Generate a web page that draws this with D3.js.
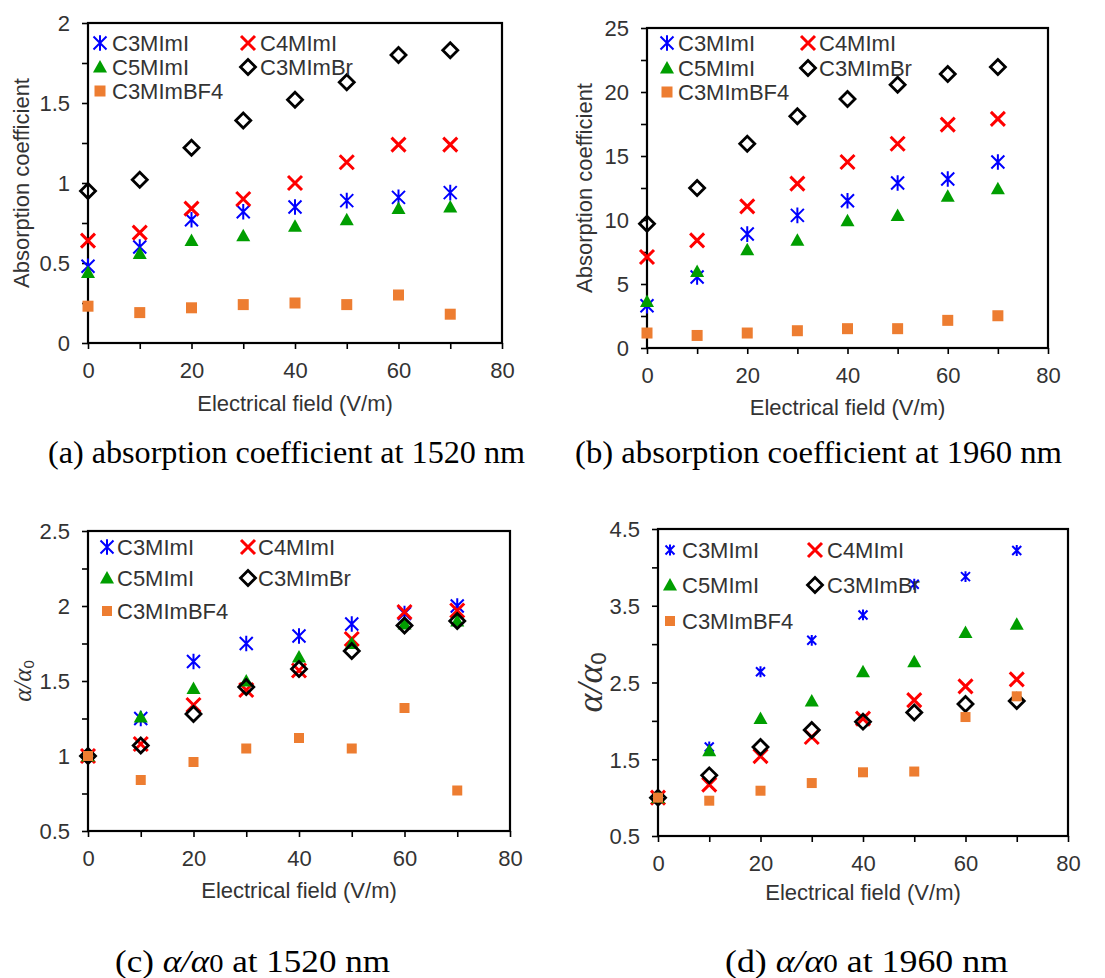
<!DOCTYPE html>
<html>
<head>
<meta charset="utf-8">
<script src="https://cdn.jsdelivr.net/npm/d3@7"></script>
<style>
  body { margin: 0; background: #fff; }
</style>
</head>
<body>
<div id="fig"></div>
<script>
// electrical field (V/m), shared by all four panels
const fields = [0, 10, 20, 30, 40, 50, 60, 70];
const seriesNames = ["C3MImI", "C4MImI", "C5MImI", "C3MImBr", "C3MImBF4"];

// (a) absorption coefficient at 1520 nm
const abs1520_C3MImI   = [0.48, 0.60, 0.77, 0.82, 0.85, 0.89, 0.91, 0.94];
const abs1520_C4MImI   = [0.64, 0.69, 0.84, 0.90, 1.00, 1.13, 1.24, 1.24];
const abs1520_C5MImI   = [0.44, 0.56, 0.64, 0.67, 0.73, 0.77, 0.84, 0.85];
const abs1520_C3MImBr  = [0.95, 1.02, 1.22, 1.39, 1.52, 1.63, 1.80, 1.83];
const abs1520_C3MImBF4 = [0.23, 0.19, 0.22, 0.24, 0.25, 0.24, 0.30, 0.18];

// (b) absorption coefficient at 1960 nm
const abs1960_C3MImI   = [3.3, 5.55, 8.9, 10.36, 11.5, 12.89, 13.2, 14.53];
const abs1960_C4MImI   = [7.11, 8.41, 11.06, 12.84, 14.53, 15.96, 17.45, 17.9];
const abs1960_C5MImI   = [3.64, 5.98, 7.68, 8.41, 9.95, 10.36, 11.85, 12.45];
const abs1960_C3MImBr  = [9.71, 12.5, 15.96, 18.1, 19.45, 20.57, 21.4, 21.95];
const abs1960_C3MImBF4 = [1.17, 0.98, 1.17, 1.35, 1.51, 1.51, 2.16, 2.52];

// (c) alpha/alpha0 at 1520 nm
const ratio1520_C3MImI   = [1.0, 1.25, 1.63, 1.75, 1.80, 1.88, 1.95, 2.00];
const ratio1520_C4MImI   = [1.0, 1.08, 1.34, 1.44, 1.57, 1.78, 1.96, 1.97];
const ratio1520_C5MImI   = [1.0, 1.26, 1.45, 1.50, 1.66, 1.75, 1.88, 1.90];
const ratio1520_C3MImBr  = [1.0, 1.07, 1.28, 1.46, 1.58, 1.70, 1.87, 1.90];
const ratio1520_C3MImBF4 = [1.0, 0.84, 0.96, 1.05, 1.12, 1.05, 1.32, 0.77];

// (d) alpha/alpha0 at 1960 nm
const ratio1960_C3MImI   = [1.0, 1.66, 2.64, 3.05, 3.38, 3.78, 3.88, 4.22];
const ratio1960_C4MImI   = [1.0, 1.17, 1.54, 1.79, 2.03, 2.27, 2.45, 2.54];
const ratio1960_C5MImI   = [1.0, 1.61, 2.03, 2.26, 2.64, 2.77, 3.15, 3.26];
const ratio1960_C3MImBr  = [1.0, 1.29, 1.66, 1.88, 1.99, 2.11, 2.22, 2.26];
const ratio1960_C3MImBF4 = [1.0, 0.96, 1.09, 1.19, 1.33, 1.34, 2.05, 2.32];

const xTicks = [0, 10, 20, 30, 40, 50, 60, 70, 80];

const markerOf = { C3MImI: "star", C4MImI: "cross", C5MImI: "tri", C3MImBr: "diamond", C3MImBF4: "square" };
const colorOf = { C3MImI: "#0000ff", C4MImI: "#ff0000", C5MImI: "#009e00", C3MImBr: "#000000", C3MImBF4: "#ed7d31" };

const SANS = "'Liberation Sans', Arial, Helvetica, sans-serif";
const SERIF = "'Times New Roman', 'Liberation Serif', Times, serif";
const INK = "#333";

const W = 1105, H = 978;
const svg = d3.select("#fig").append("svg").attr("width", W).attr("height", H)
    .style("font-family", SANS);

function drawMarker(g, kind, cx, cy, color, sz) {
    const m = g.append("g").attr("transform", `translate(${cx},${cy})`);
    if (kind === "star") {
        const s = sz.star;
        m.append("path").attr("d", `M${-s},${-s}L${s},${s}M${-s},${s}L${s},${-s}M0,${-s * 1.2}L0,${s * 1.2}`)
            .attr("stroke", color).attr("stroke-width", 2).attr("fill", "none");
    } else if (kind === "cross") {
        m.append("path").attr("d", "M-7,-7L7,7M-7,7L7,-7")
            .attr("stroke", color).attr("stroke-width", 3).attr("fill", "none");
    } else if (kind === "tri") {
        m.append("path").attr("d", "M0,-7L7,5.5L-7,5.5Z").attr("fill", color);
    } else if (kind === "diamond") {
        m.append("path").attr("d", "M0,-7.5L7.5,0L0,7.5L-7.5,0Z")
            .attr("fill", "none").attr("stroke", color).attr("stroke-width", 2.8);
    } else {
        const q = sz.square / 2;
        m.append("rect").attr("x", -q).attr("y", -q).attr("width", 2 * q).attr("height", 2 * q).attr("fill", color);
    }
}

function renderPanel(p) {
    const x = d3.scaleLinear().domain([0, 80]).range([p.left, p.right]);
    const y = d3.scaleLinear().domain(p.yDomain).range([p.bottom, p.top]);
    const g = svg.append("g");

    // ticks via d3 axes
    const xa = g.append("g").attr("transform", `translate(0,${p.bottom})`)
        .call(d3.axisBottom(x).tickValues(xTicks).tickSize(6).tickSizeOuter(0)
            .tickFormat(d => d % 20 === 0 ? d : ""));
    const ya = g.append("g").attr("transform", `translate(${p.left},0)`)
        .call(d3.axisLeft(y).tickValues(p.yTicks).tickSize(6).tickSizeOuter(0)
            .tickFormat(d => p.yLabels.includes(d) ? d3.format("~g")(d) : ""));
    [xa, ya].forEach(a => {
        a.attr("font-family", SANS);
        a.select(".domain").remove();
        a.selectAll(".tick line").attr("stroke", "#000").attr("stroke-width", 1.6);
        a.selectAll("text").attr("fill", INK).style("font-size", "22px");
    });
    xa.selectAll("text").attr("dy", null).attr("y", 35);
    ya.selectAll("text").attr("x", -18).attr("dy", "0.36em");

    // frame
    g.append("rect").attr("x", p.left).attr("y", p.top)
        .attr("width", p.right - p.left).attr("height", p.bottom - p.top)
        .attr("fill", "none").attr("stroke", "#000").attr("stroke-width", 2.2);

    // points, in legend order so later series sit on top
    seriesNames.forEach((name, i) => {
        p.values[i].forEach((v, j) => {
            drawMarker(g, markerOf[name], x(fields[j]), y(v), colorOf[name], p.marker);
        });
    });

    // legend
    seriesNames.forEach((name, i) => {
        const col = i % 2, row = Math.floor(i / 2);
        const lx = p.legend.cols[col], ly = p.legend.rows[row];
        drawMarker(g, markerOf[name], lx, ly, colorOf[name], p.marker);
        g.append("text").attr("x", lx + p.legend.gap).attr("y", ly).attr("dy", "0.36em")
            .attr("fill", INK).style("font-size", "22px").text(name);
    });

    // x title
    g.append("text").attr("x", (p.left + p.right) / 2).attr("y", p.bottom + p.xTitleDy)
        .attr("text-anchor", "middle").attr("fill", INK).style("font-size", "22px")
        .text("Electrical field (V/m)");

    // y title
    const yt = g.append("text")
        .attr("transform", `translate(${p.yTitleX},${(p.top + p.bottom) / 2}) rotate(-90)`)
        .attr("text-anchor", "middle").attr("fill", INK);
    if (p.ratio) {
        yt.append("tspan").style("font-family", SERIF).style("font-style", "italic")
            .style("font-size", p.ratio + "px").text("α/α");
        yt.append("tspan").style("font-size", (p.ratio * 0.6) + "px").attr("dy", p.ratio * 0.12).text("0");
    } else {
        yt.style("font-size", "22px").text("Absorption coefficient");
    }

    // caption
    const cap = svg.append("text").attr("x", p.cap.x0).attr("y", p.cap.y)
        .attr("textLength", p.cap.x1 - p.cap.x0).attr("lengthAdjust", "spacingAndGlyphs")
        .style("font-family", SERIF).style("font-size", "32px").attr("fill", "#000");
    p.cap.parts.forEach(t => {
        const s = cap.append("tspan").text(t.s);
        if (t.it) s.style("font-style", "italic");
        if (t.small) s.style("font-size", "26px");
    });
}

const step = (a, b, d) => d3.range(a, b + d / 2, d).map(v => +v.toFixed(3));

renderPanel({
    left: 88, right: 502, top: 23, bottom: 343,
    yDomain: [0, 2], yTicks: step(0, 2, 0.25), yLabels: [0, 0.5, 1, 1.5, 2],
    values: [abs1520_C3MImI, abs1520_C4MImI, abs1520_C5MImI, abs1520_C3MImBr, abs1520_C3MImBF4],
    marker: { star: 6.5, square: 11 },
    legend: { cols: [100, 248], rows: [43, 67, 91], gap: 12 },
    xTitleDy: 68, yTitleX: 29,
    cap: { x0: 48, x1: 525, y: 463, parts: [{ s: "(a) absorption coefficient at 1520 nm" }] }
});

renderPanel({
    left: 647, right: 1048, top: 28, bottom: 348,
    yDomain: [0, 25], yTicks: step(0, 25, 2.5), yLabels: [0, 5, 10, 15, 20, 25],
    values: [abs1960_C3MImI, abs1960_C4MImI, abs1960_C5MImI, abs1960_C3MImBr, abs1960_C3MImBF4],
    marker: { star: 6.5, square: 11 },
    legend: { cols: [667, 808], rows: [43, 68, 92], gap: 11 },
    xTitleDy: 67, yTitleX: 592,
    cap: { x0: 575, x1: 1062, y: 463, parts: [{ s: "(b) absorption coefficient at 1960 nm" }] }
});

renderPanel({
    left: 88, right: 510, top: 531, bottom: 831,
    yDomain: [0.5, 2.5], yTicks: step(0.5, 2.5, 0.25), yLabels: [0.5, 1, 1.5, 2, 2.5],
    values: [ratio1520_C3MImI, ratio1520_C4MImI, ratio1520_C5MImI, ratio1520_C3MImBr, ratio1520_C3MImBF4],
    marker: { star: 6.5, square: 10 },
    legend: { cols: [107, 248], rows: [547, 578, 611], gap: 10 },
    xTitleDy: 67, yTitleX: 31, ratio: 25,
    cap: { x0: 115, x1: 390, y: 972, parts: [{ s: "(c) " }, { s: "α/α", it: true }, { s: "0", small: true }, { s: " at 1520 nm" }] }
});

renderPanel({
    left: 658, right: 1068, top: 529, bottom: 836,
    yDomain: [0.5, 4.5], yTicks: step(0.5, 4.5, 0.5), yLabels: [0.5, 1.5, 2.5, 3.5, 4.5],
    values: [ratio1960_C3MImI, ratio1960_C4MImI, ratio1960_C5MImI, ratio1960_C3MImBr, ratio1960_C3MImBF4],
    marker: { star: 4.5, square: 10 },
    legend: { cols: [670, 815], rows: [550, 585, 621], gap: 12 },
    xTitleDy: 64, yTitleX: 602, ratio: 36,
    cap: { x0: 725, x1: 1008, y: 972, parts: [{ s: "(d) " }, { s: "α/α", it: true }, { s: "0", small: true }, { s: " at 1960 nm" }] }
});
</script>
</body>
</html>
